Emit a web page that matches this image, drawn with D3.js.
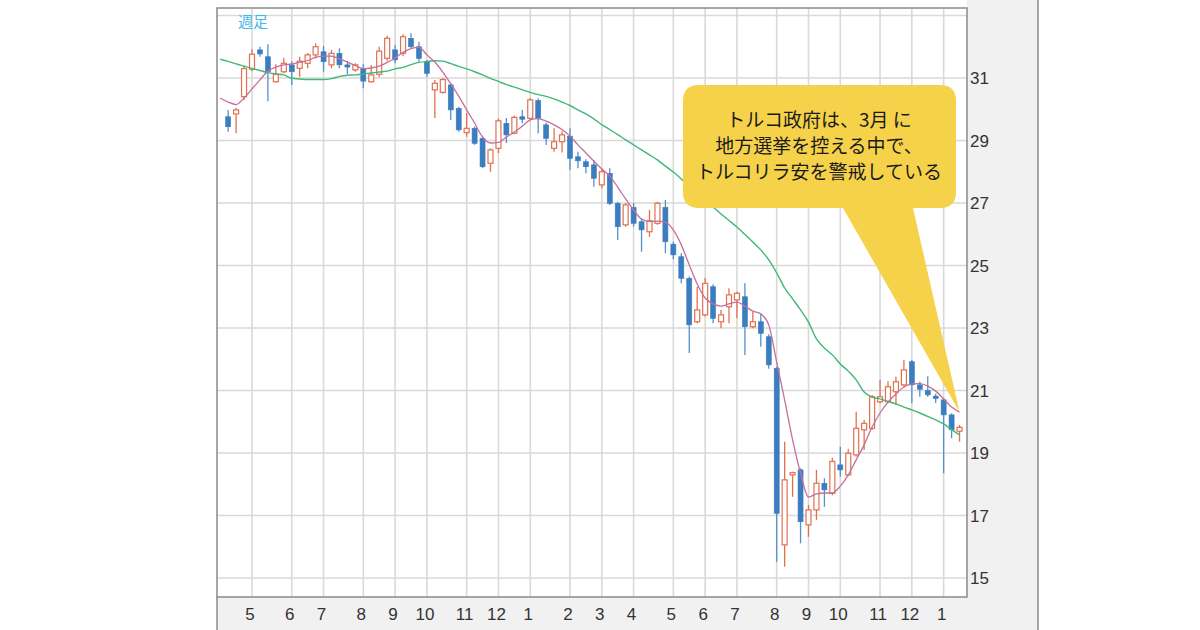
<!DOCTYPE html>
<html>
<head>
<meta charset="utf-8">
<script src="https://d3js.org/d3.v7.min.js"></script>
<style>
  body { margin: 0; background: #fff; }
  svg { display: block; }
</style>
</head>
<body>
<div id="chart"></div>
<script>
// TRY/JPY weekly candles (Apr 2017 - Jan 2019)
var weekOpen = [29.76,29.85,30.40,31.28,31.90,31.68,30.88,31.20,31.42,31.31,
  31.47,31.74,31.84,31.42,31.79,31.42,31.26,31.31,30.88,31.12,
  31.63,31.90,31.79,32.27,32.00,31.52,30.62,30.54,30.78,30.03,
  29.25,29.39,29.07,28.27,28.75,29.55,29.23,29.76,29.71,30.28,
  29.50,28.75,28.96,29.14,28.48,28.32,28.22,27.58,27.95,26.99,
  26.30,26.86,26.40,26.08,26.35,26.86,25.68,25.28,24.59,23.20,
  23.42,24.32,23.20,23.68,23.90,24.00,23.04,23.20,22.72,21.71,
  16.06,18.30,18.46,16.70,17.18,18.03,17.71,18.62,18.30,18.94,
  19.74,19.79,20.64,20.64,20.96,21.18,21.92,21.18,21.00,20.82,
  20.70,20.22,19.70];
var weekHigh = [29.98,30.05,31.40,31.92,32.00,32.08,31.44,31.65,31.54,31.68,
  31.80,32.11,32.03,31.90,31.95,31.55,31.47,31.44,31.42,32.00,
  32.35,32.06,32.40,32.43,32.16,31.58,30.94,31.00,30.85,30.08,
  29.88,29.45,29.15,28.75,29.70,29.72,29.80,29.98,30.36,30.35,
  29.57,29.39,29.30,29.39,28.64,28.40,28.38,28.11,28.11,27.04,
  27.00,27.00,26.51,26.78,27.04,27.10,25.76,25.39,24.65,24.32,
  24.60,24.40,23.58,24.27,24.16,24.43,23.52,23.47,22.80,21.76,
  19.36,18.40,18.51,17.34,18.46,18.19,18.85,19.20,19.14,20.32,
  20.06,20.86,21.34,21.30,21.44,21.98,21.98,21.28,21.46,20.90,
  20.75,20.27,19.90];
var weekLow = [29.28,29.23,30.30,31.22,31.68,30.26,30.86,31.15,30.78,31.04,
  31.31,31.63,31.20,31.31,31.31,31.12,31.20,30.67,30.86,31.03,
  31.55,31.47,31.70,31.95,31.52,31.04,29.72,30.50,29.66,29.28,
  29.12,28.86,28.12,28.00,28.60,28.92,29.20,29.55,29.66,29.23,
  28.86,28.64,28.62,28.06,28.11,27.95,27.52,27.47,26.94,25.82,
  26.24,26.24,25.44,25.92,26.30,25.39,25.20,24.43,22.20,23.15,
  23.37,23.15,22.99,23.15,23.31,22.14,22.99,22.40,21.70,15.52,
  15.36,17.60,16.11,16.32,16.86,17.28,17.65,18.24,18.26,18.88,
  19.10,19.74,20.59,20.59,20.54,21.12,20.59,20.80,20.80,20.60,
  18.35,19.47,19.36];
var weekClose = [29.44,29.98,31.30,31.76,31.77,31.20,31.12,31.47,31.20,31.54,
  31.74,32.00,31.52,31.79,31.42,31.35,31.42,30.90,31.10,31.86,
  32.27,31.58,32.32,32.00,31.63,31.15,30.83,30.95,29.98,29.34,
  29.39,28.91,28.16,28.70,29.63,29.18,29.74,29.68,30.30,29.71,
  29.07,28.96,29.18,28.43,28.35,28.16,27.79,28.00,26.99,26.24,
  26.94,26.35,26.14,26.43,26.99,25.76,25.34,24.59,23.10,23.58,
  24.43,23.31,23.42,24.06,24.11,23.04,23.20,22.83,21.82,17.07,
  18.14,18.37,16.80,17.18,18.03,17.82,18.73,18.46,18.99,19.79,
  19.95,20.80,20.80,21.12,21.28,21.66,21.18,21.04,20.86,20.74,
  20.22,19.74,19.82];

// moving average lines as drawn (first value = week before the first candle)
var maShort = [30.36,30.23,30.15,30.36,30.65,30.94,31.22,31.35,31.42,31.45,
  31.50,31.56,31.66,31.70,31.70,31.61,31.51,31.40,31.30,31.32,
  31.38,31.50,31.64,31.82,31.94,31.98,31.74,31.51,31.19,30.81,
  30.42,29.98,29.56,29.11,28.92,28.94,29.11,29.27,29.46,29.66,
  29.70,29.62,29.50,29.35,29.14,28.86,28.60,28.34,28.09,27.86,
  27.51,27.13,26.78,26.49,26.41,26.42,26.39,26.14,25.66,25.02,
  24.41,23.96,23.77,23.70,23.77,23.83,23.70,23.54,23.45,23.10,
  21.91,20.70,19.42,18.36,17.59,17.69,17.72,17.72,17.94,18.30,
  18.78,19.26,19.83,20.28,20.63,20.89,21.11,21.21,21.22,21.14,
  20.98,20.73,20.47,20.31];
var maLong = [31.60,31.53,31.45,31.38,31.31,31.24,31.17,31.13,31.10,30.99,
  30.97,30.95,30.95,30.95,30.98,31.05,31.09,31.10,31.13,31.16,
  31.19,31.22,31.29,31.34,31.43,31.50,31.53,31.55,31.54,31.46,
  31.37,31.29,31.20,31.10,30.99,30.89,30.79,30.71,30.62,30.54,
  30.47,30.41,30.33,30.23,30.12,29.98,29.85,29.69,29.51,29.35,
  29.19,29.02,28.86,28.70,28.54,28.38,28.18,27.99,27.77,27.54,
  27.32,27.10,26.87,26.65,26.44,26.23,25.99,25.75,25.50,25.18,
  24.76,24.28,23.93,23.58,23.19,22.65,22.36,22.14,21.85,21.62,
  21.34,20.95,20.79,20.73,20.65,20.57,20.47,20.38,20.28,20.17,
  20.06,19.93,19.75,19.58];

// month ticks: week index where each month starts, and its label
var tickWeeks = [3,8,12,17,21,25,30,34,38,43,47,51,56,60,64,69,73,77,82,86,90];
var tickLabels = ["5","6","7","8","9","10","11","12","1","2","3","4","5","6","7","8","9","10","11","12","1"];
var priceTicks = [15,17,19,21,23,25,27,29,31,33];
var priceLabels = [15,17,19,21,23,25,27,29,31];

var noteLines = ["トルコ政府は、3月 に", "地方選挙を控える中で、", "トルコリラ安を警戒している"];
var periodLabel = "週足";

var W = 1200, H = 630;
var plot = {left: 217, right: 967, top: 8, bottom: 597};
var panelRight = 1038;

var svg = d3.select("#chart").append("svg")
  .attr("width", W)
  .attr("height", H);

var x = d3.scaleLinear().domain([0, 92]).range([228.15, 959.55]);
var y = d3.scaleLinear().domain([15, 31]).range([578, 78]);

// axis panels
svg.append("rect")
  .attr("x", plot.left).attr("y", 0)
  .attr("width", panelRight - plot.left).attr("height", H)
  .attr("fill", "#f1f1f1");
svg.append("rect")
  .attr("x", plot.left).attr("y", 0)
  .attr("width", plot.right - plot.left).attr("height", plot.top)
  .attr("fill", "#fff");
svg.append("line")
  .attr("x1", panelRight).attr("x2", panelRight)
  .attr("y1", 0).attr("y2", H)
  .attr("stroke", "#8a8a8a").attr("stroke-width", 1.5);
svg.append("line")
  .attr("x1", plot.left).attr("x2", plot.left)
  .attr("y1", plot.bottom).attr("y2", H)
  .attr("stroke", "#8a8a8a").attr("stroke-width", 1.5);

svg.append("defs").append("clipPath").attr("id", "clip")
  .append("rect")
  .attr("x", plot.left).attr("y", plot.top)
  .attr("width", plot.right - plot.left).attr("height", plot.bottom - plot.top);

svg.append("rect")
  .attr("x", plot.left).attr("y", plot.top)
  .attr("width", plot.right - plot.left).attr("height", plot.bottom - plot.top)
  .attr("fill", "#fff");

var g = svg.append("g").attr("clip-path", "url(#clip)");

// grid
g.selectAll(".hgrid")
  .data(priceTicks)
  .enter().append("line")
  .attr("class", "hgrid")
  .attr("x1", plot.left).attr("x2", plot.right)
  .attr("y1", d => y(d)).attr("y2", d => y(d))
  .attr("stroke", "#d9d9d9").attr("stroke-width", 1.6);

g.selectAll(".vgrid")
  .data(tickWeeks)
  .enter().append("line")
  .attr("class", "vgrid")
  .attr("x1", d => x(d)).attr("x2", d => x(d))
  .attr("y1", plot.top).attr("y2", plot.bottom)
  .attr("stroke", "#d9d9d9").attr("stroke-width", 1.6);

// candles
var candles = weekOpen.map((o, i) => ({i: i, o: o, h: weekHigh[i], l: weekLow[i], c: weekClose[i]}));
var upCol = "#e2704f", downCol = "#3b7dbf", bodyW = 5;

var cg = g.selectAll(".candle")
  .data(candles)
  .enter().append("g")
  .attr("class", "candle");

cg.append("line")
  .attr("x1", d => x(d.i)).attr("x2", d => x(d.i))
  .attr("y1", d => y(d.h)).attr("y2", d => y(d.l))
  .attr("stroke", d => d.c >= d.o ? upCol : "#5590cb")
  .attr("stroke-width", 1.3);

cg.append("rect")
  .attr("x", d => x(d.i) - bodyW / 2)
  .attr("y", d => y(Math.max(d.o, d.c)))
  .attr("width", bodyW)
  .attr("height", d => Math.max(1.5, Math.abs(y(d.o) - y(d.c))))
  .attr("fill", d => d.c >= d.o ? "#fff" : downCol)
  .attr("stroke", d => d.c >= d.o ? upCol : downCol)
  .attr("stroke-width", d => d.c >= d.o ? 1.2 : 0.6);

// moving averages
var line = d3.line()
  .x((d, k) => x(k - 1))
  .y(d => y(d))
  .curve(d3.curveMonotoneX);

g.append("path")
  .datum(maLong)
  .attr("d", line)
  .attr("fill", "none")
  .attr("stroke", "#3fb878")
  .attr("stroke-width", 1.4);

g.append("path")
  .datum(maShort)
  .attr("d", line)
  .attr("fill", "none")
  .attr("stroke", "#c46f9c")
  .attr("stroke-width", 1.3);

// frame
svg.append("rect")
  .attr("x", plot.left).attr("y", plot.top)
  .attr("width", plot.right - plot.left).attr("height", plot.bottom - plot.top)
  .attr("fill", "none")
  .attr("stroke", "#8a8a8a").attr("stroke-width", 1.5);

// price labels (right)
svg.selectAll(".ylab")
  .data(priceLabels)
  .enter().append("text")
  .attr("class", "ylab")
  .attr("x", plot.right + 3)
  .attr("y", d => y(d))
  .attr("dy", "0.36em")
  .attr("font-family", "'Liberation Sans', Arial, sans-serif")
  .attr("font-size", 17)
  .attr("fill", "#333")
  .text(d => d);

// month labels (bottom)
svg.selectAll(".xlab")
  .data(tickWeeks)
  .enter().append("text")
  .attr("class", "xlab")
  .attr("x", d => x(d) - 2)
  .attr("y", 620)
  .attr("text-anchor", "middle")
  .attr("font-family", "'Liberation Sans', Arial, sans-serif")
  .attr("font-size", 17)
  .attr("fill", "#333")
  .text((d, k) => tickLabels[k]);

// period label
svg.append("text")
  .attr("x", 238).attr("y", 27)
  .attr("font-family", "'Noto Sans CJK JP', sans-serif")
  .attr("font-size", 15)
  .attr("fill", "#45b8ef")
  .text(periodLabel);

// callout pointing at the latest short-MA value
var tipX = x(92), tipY = y(maShort[maShort.length - 1]);
var bx0 = 683, bx1 = 956, by0 = 85, by1 = 208, r = 16;
var p = d3.path();
p.moveTo(bx0 + r, by0);
p.lineTo(bx1 - r, by0);
p.quadraticCurveTo(bx1, by0, bx1, by0 + r);
p.lineTo(bx1, by1 - r);
p.quadraticCurveTo(bx1, by1, bx1 - r, by1);
p.lineTo(913, by1);
p.lineTo(tipX, tipY);
p.lineTo(843, by1);
p.lineTo(bx0 + r, by1);
p.quadraticCurveTo(bx0, by1, bx0, by1 - r);
p.lineTo(bx0, by0 + r);
p.quadraticCurveTo(bx0, by0, bx0 + r, by0);
p.closePath();

svg.append("path")
  .attr("d", p.toString())
  .attr("fill", "#f6d24a");

svg.selectAll(".note")
  .data(noteLines)
  .enter().append("text")
  .attr("class", "note")
  .attr("x", 819)
  .attr("y", (d, k) => 127 + k * 26)
  .attr("text-anchor", "middle")
  .attr("font-family", "'Noto Sans CJK JP', sans-serif")
  .attr("font-size", 19)
  .attr("fill", "#1a1a1a")
  .text(d => d);
</script>
</body>
</html>
